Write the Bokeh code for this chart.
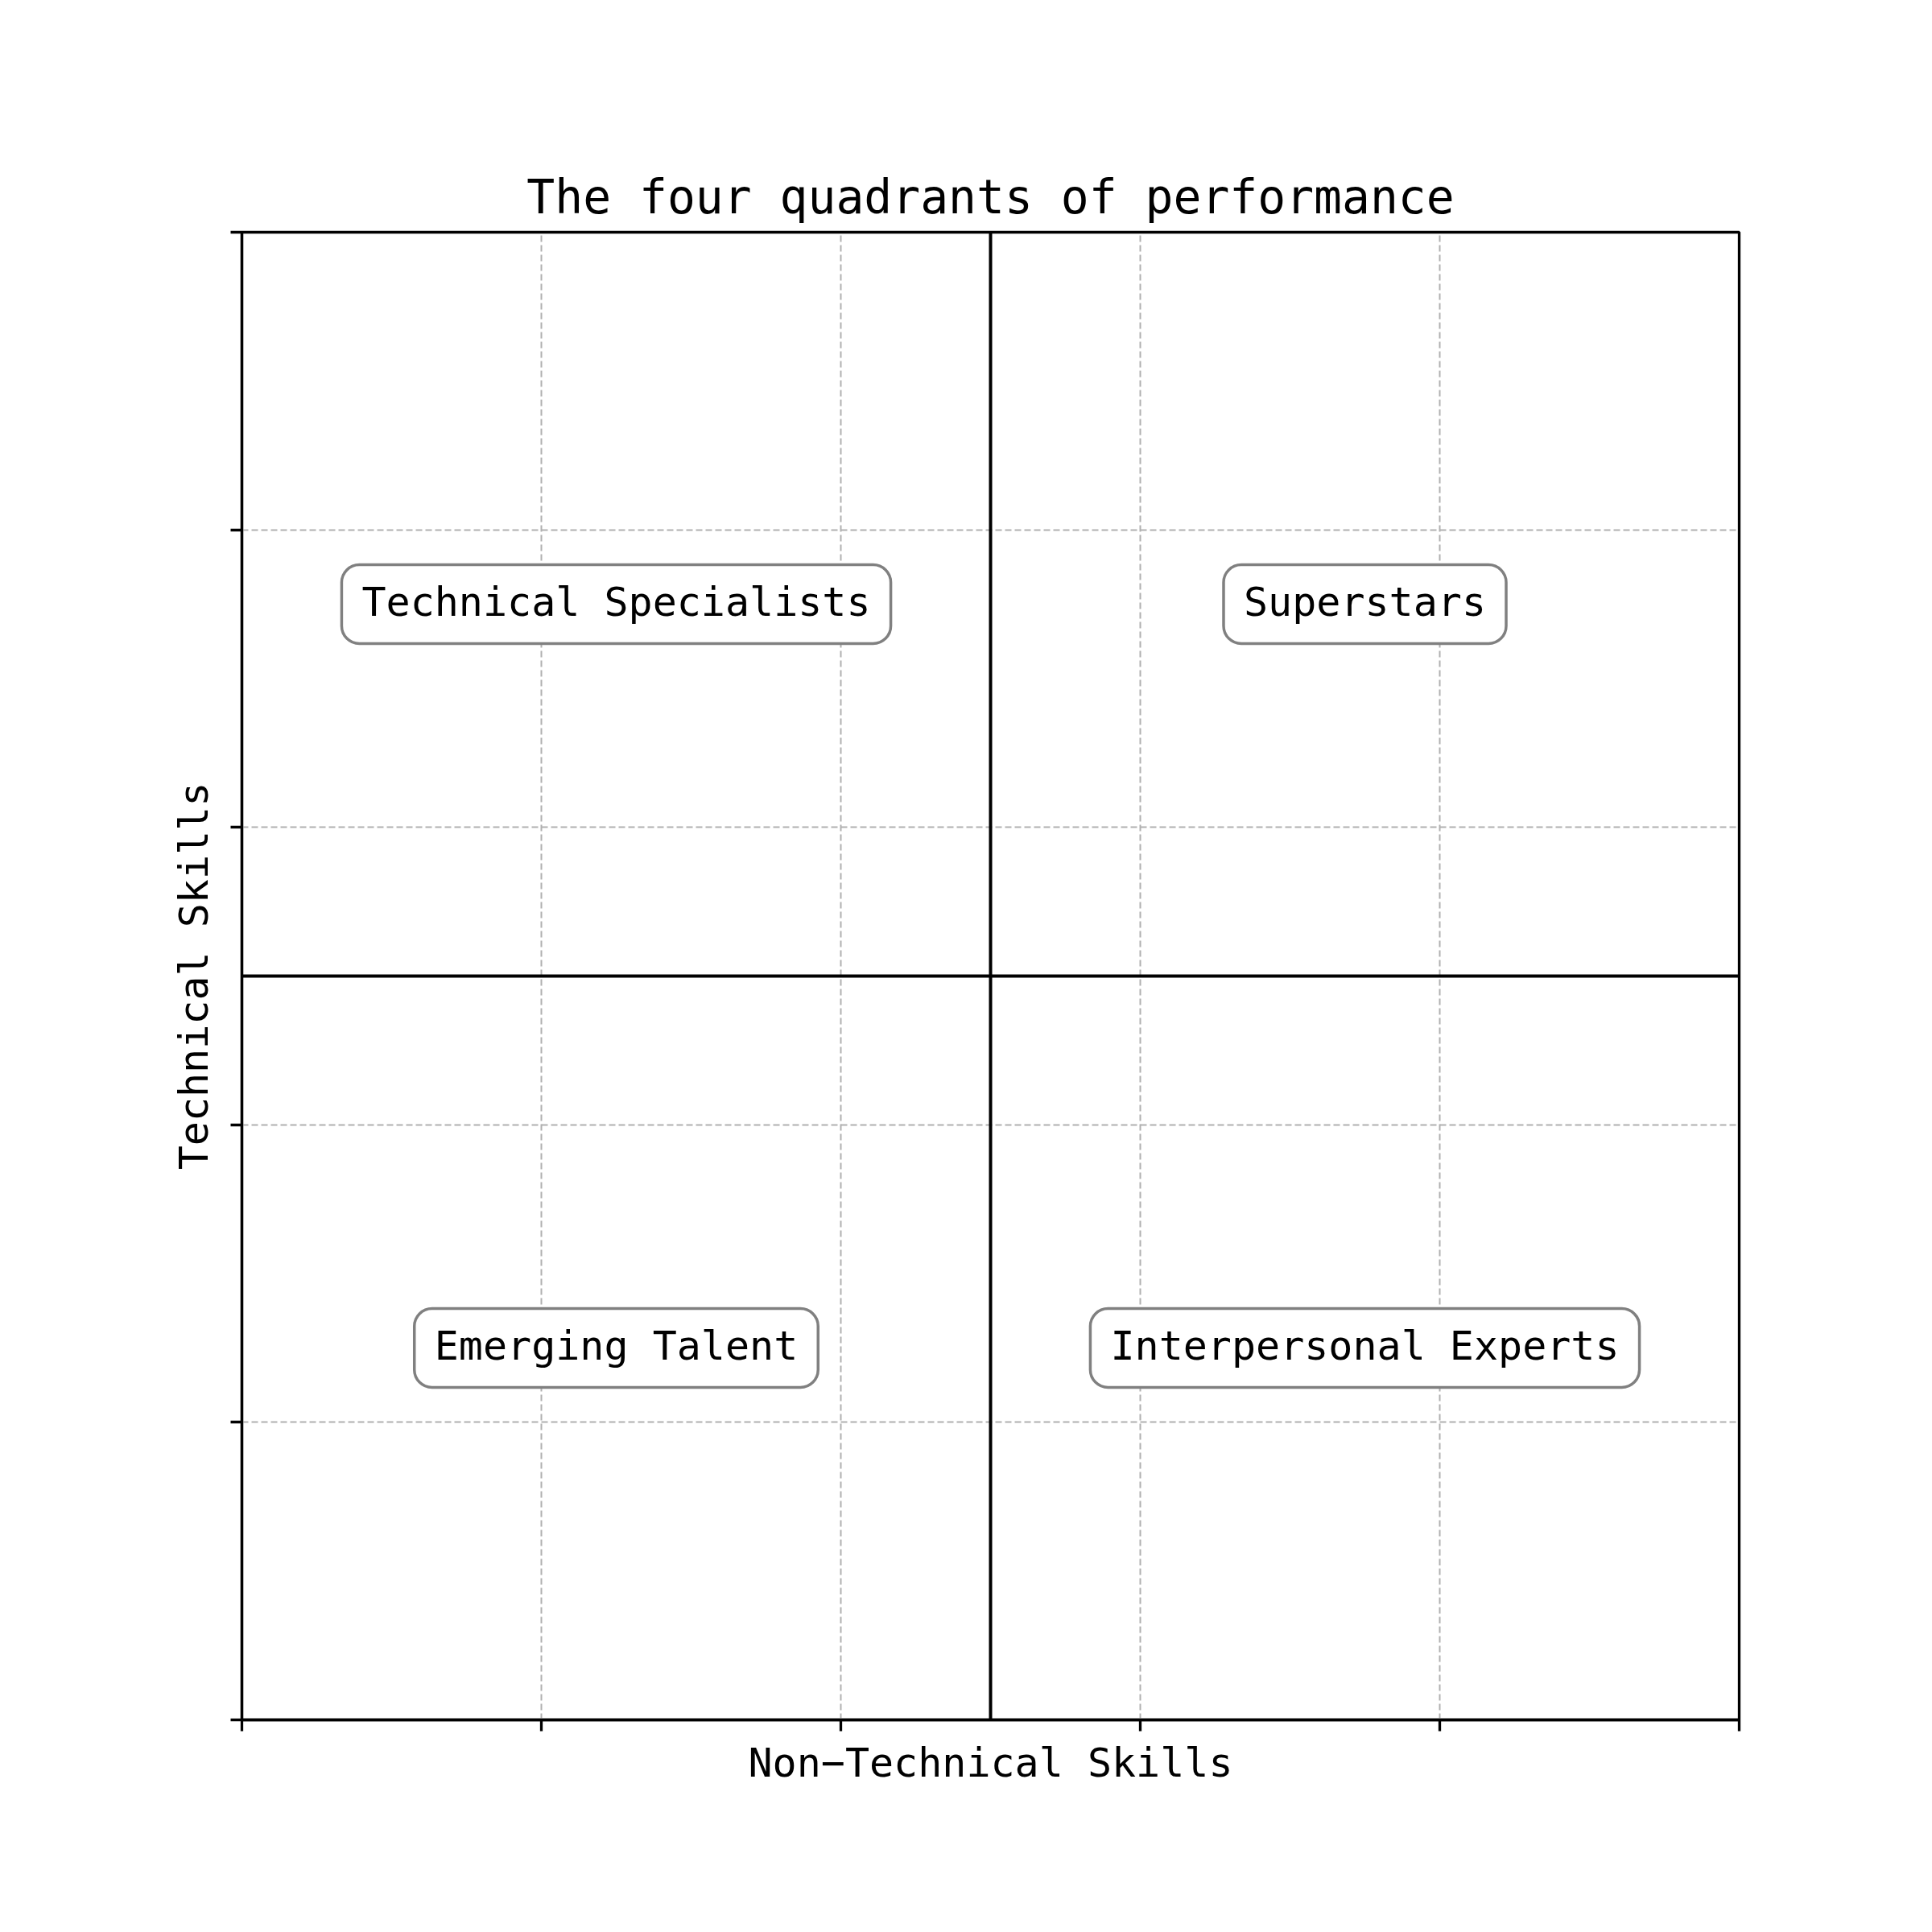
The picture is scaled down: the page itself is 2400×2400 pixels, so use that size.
from bokeh.plotting import figure
from bokeh.models import Range1d, FixedTicker, Span, Label
from bokeh.embed import file_html
from bokeh.resources import INLINE

# ---- data ----
title_text = "The four quadrants of performance"
x_label = "Non\u2212Technical Skills"
y_label = "Technical Skills"
quadrant_labels = ["Technical Specialists", "Superstars", "Emerging Talent", "Interpersonal Experts"]
label_x = [2.5, 7.5, 2.5, 7.5]
label_y = [7.5, 7.5, 2.5, 2.5]
x_ticks = [0, 2, 4, 6, 8, 10]
y_ticks = [0, 2, 4, 6, 8, 10]
x_limits = [0, 10]
y_limits = [0, 10]
mid_x = 5
mid_y = 5

FONT = "DejaVu Sans Mono"

p = figure(
    frame_width=1860, frame_height=1848,
    min_border_left=300, min_border_right=232,
    min_border_top=288, min_border_bottom=256,
    x_range=Range1d(*x_limits), y_range=Range1d(*y_limits),
    output_backend="svg", toolbar_location=None,
    title=title_text,
)
p.background_fill_color = "white"
p.border_fill_color = "white"
p.outline_line_color = "black"
p.outline_line_width = 3.3

p.title.align = "center"
p.title.text_font = FONT
p.title.text_font_size = "58px"
p.title.text_font_style = "normal"
p.title.text_color = "black"
p.title.standoff = 19

for ax, ticks, lab in ((p.xaxis[0], x_ticks, x_label), (p.yaxis[0], y_ticks, y_label)):
    ax.ticker = FixedTicker(ticks=ticks)
    ax.major_label_text_font_size = "0px"
    ax.major_label_text_color = None
    ax.major_label_standoff = 0
    ax.major_tick_out = 14
    ax.major_tick_in = 0
    ax.minor_tick_out = 0
    ax.minor_tick_in = 0
    ax.major_tick_line_width = 3.3
    ax.major_tick_line_color = "black"
    ax.axis_line_width = 3.3
    ax.axis_line_color = "black"
    ax.axis_label = lab
    ax.axis_label_text_font = FONT
    ax.axis_label_text_font_size = "50px"
    ax.axis_label_text_font_style = "normal"
    ax.axis_label_text_color = "black"

p.xaxis[0].axis_label_standoff = 10
p.yaxis[0].axis_label_standoff = 17

for g in (p.xgrid[0], p.ygrid[0]):
    g.grid_line_color = "#b0b0b0"
    g.grid_line_width = 2
    g.grid_line_dash = "8 4"

p.add_layout(Span(location=mid_x, dimension="height", line_color="black", line_width=4))
p.add_layout(Span(location=mid_y, dimension="width", line_color="black", line_width=4))

for txt, lx, ly in zip(quadrant_labels, label_x, label_y):
    p.add_layout(Label(
        x=lx, y=ly, text=txt,
        text_align="center", text_baseline="middle",
        text_font=FONT, text_font_size="50px", text_color="black",
        background_fill_color="white", background_fill_alpha=1.0,
        border_line_color="gray", border_line_width=3.5,
        padding=dict(left=25, right=25, top=17, bottom=23),
        border_radius=22,
    ))

open("out.html", "w").write(file_html(p, INLINE))
